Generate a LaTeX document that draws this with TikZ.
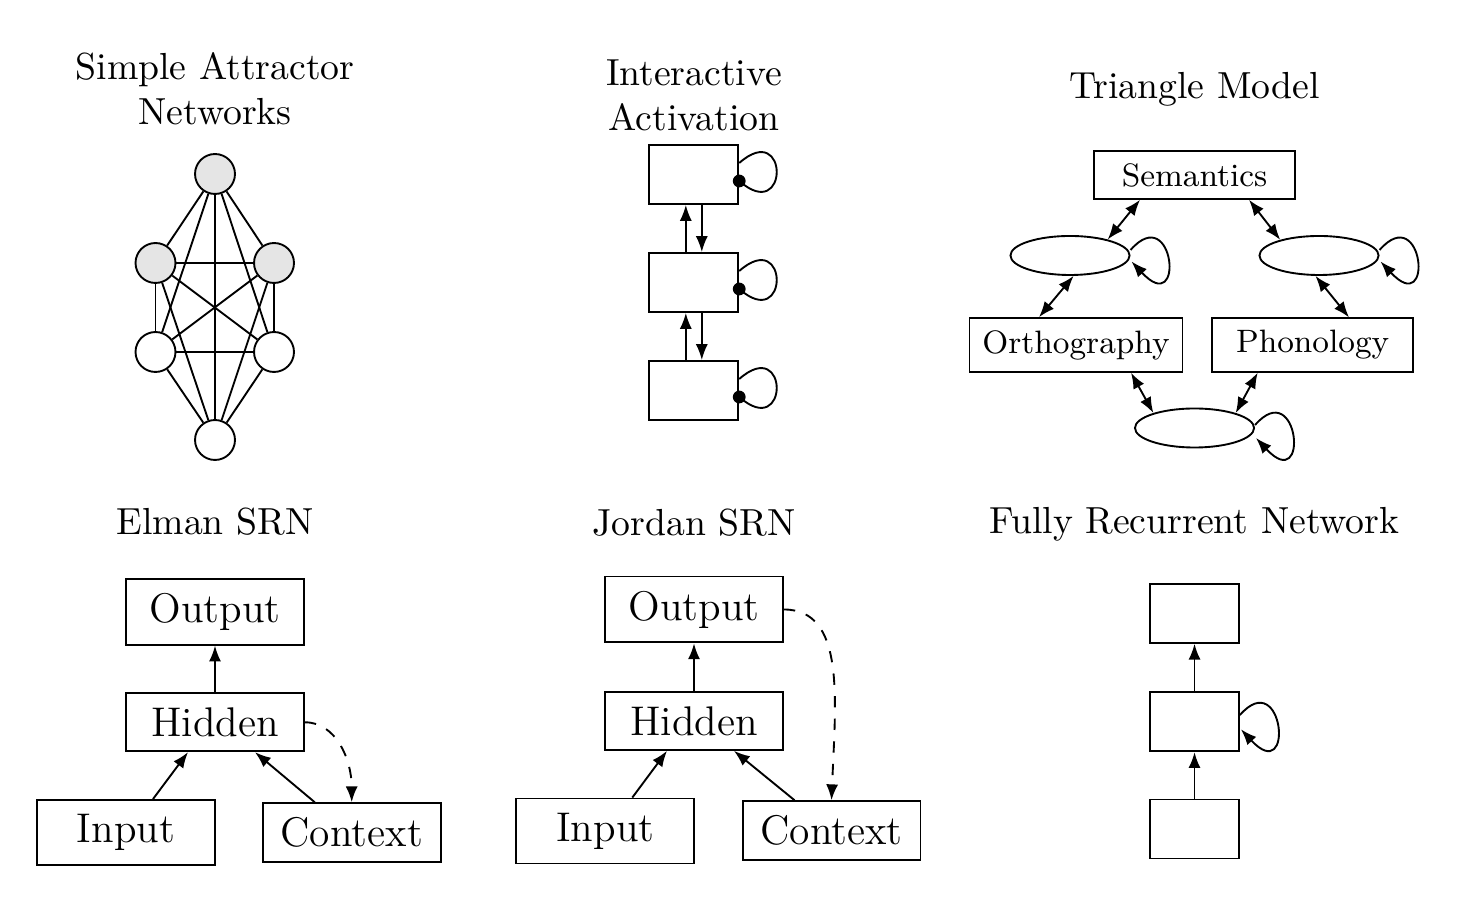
\documentclass[tikz,border=0pt]{standalone}
\usepackage{fontspec}
\usetikzlibrary{arrows.meta,shapes.geometric,calc}
\begin{document}
\begin{tikzpicture}[x=0.2653pt,y=-0.2653pt,
  line width=0.5pt,
  >={Latex[length=4.2pt,width=3.2pt]},
  neuron/.style={circle,draw,minimum size=10.6pt,inner sep=0pt,fill=white},
  hot/.style={neuron,fill=gray!20},
  ttl/.style={font=\fontsize{10}{12}\selectfont,align=center,inner sep=0pt},
  unit/.style={draw,rectangle,minimum width=23.6pt,minimum height=15.65pt,inner sep=0pt},
  tribox/.style={draw,rectangle,font=\fontsize{8.6}{10}\selectfont,inner xsep=3pt,inner ysep=3.2pt,minimum width=53.3pt},
  hidl/.style={draw,ellipse,minimum width=31.6pt,minimum height=10.35pt,inner sep=0pt},
  srn/.style={draw,rectangle,font=\fontsize{11}{13}\selectfont,minimum width=47.2pt,inner xsep=2pt,inner ysep=3.8pt}
]
\useasboundingbox (0,0) rectangle (1464,903);

% ---------- Simple Attractor Networks ----------
\node[ttl] (t1) at (215,88.5) {Simple Attractor\\Networks};
\node[hot] (a1) at (215,174) {};
\node[hot] (a2) at (155.5,263) {};
\node[hot] (a3) at (274,263) {};
\node[neuron] (a4) at (155.5,352) {};
\node[neuron] (a5) at (274,352) {};
\node[neuron] (a6) at (215,440) {};
\foreach \i/\j in {a1/a2,a1/a3,a1/a4,a1/a5,a1/a6,a2/a3,a2/a4,a2/a5,a2/a6,a3/a4,a3/a5,a3/a6,a4/a5,a4/a6,a5/a6}
  \draw (\i) -- (\j);

% ---------- Interactive Activation ----------
\node[ttl] (t2) at (694,95.5) {Interactive\\Activation};
\node[unit] (ia1) at (693.8,174.5) {};
\node[unit] (ia2) at (693.8,282.5) {};
\node[unit] (ia3) at (693.8,390.5) {};
\foreach \u/\l in {ia1/ia2,ia2/ia3}{
  \draw[->] ($(\l.north)+(-8,0)$) -- ($(\u.south)+(-8,0)$);
  \draw[->] ($(\u.south)+(8,0)$) -- ($(\l.north)+(8,0)$);
}
\foreach \b in {ia1,ia2,ia3}{
  \draw ($(\b.east)+(0,-11.5)$) .. controls +(50,-44) and +(50,44) .. ($(\b.east)+(0,6.5)$);
  \fill ($(\b.east)+(0,6.5)$) circle (1.7pt);
}

% ---------- Triangle Model ----------
\node[ttl,anchor=base] (t3) at (1194.5,99) {Triangle Model};
\node[tribox] (sem) at (1194.5,175) {Semantics};
\node[tribox,minimum width=56.5pt] (orth) at (1076,345) {Orthography};
\node[tribox] (phon) at (1312.7,345) {Phonology};
\node[hidl] (le) at (1070,255.5) {};
\node[hidl] (re) at (1319,255.5) {};
\node[hidl] (be) at (1194.5,428) {};
\draw[<->] ($(sem.south)+(-54.5,0)$) -- (le.23);
\draw[<->] ($(sem.south)+(54.5,0)$) -- (re.158);
\draw[<->] (le.-80) -- ($(orth.north)+(-37,0)$);
\draw[<->] (re.-100) -- ($(phon.north)+(36.3,0)$);
\draw[<->] ($(orth.south)+(55,0)$) -- (be.160);
\draw[<->] ($(phon.south)+(-55,0)$) -- (be.20);
\draw[->] ($(le.east)+(0,-5.5)$) .. controls +(44,-50) and +(54,58) .. ($(le.east)+(1,6)$);
\draw[->] ($(re.east)+(0,-5.5)$) .. controls +(44,-50) and +(54,58) .. ($(re.east)+(1,6)$);
\draw[->] ($(be.east)+(0,-3)$) .. controls +(44,-50) and +(54,58) .. ($(be.east)+(1,10)$);

% ---------- Elman SRN ----------
\node[ttl,anchor=base] (t4) at (215,535) {Elman SRN};
\node[srn] (eo) at (215,611.7) {Output};
\node[srn] (eh) at (215,722.3) {Hidden};
\node[srn] (ei) at (126,832.5) {Input};
\node[srn] (ec) at (351.7,832.5) {Context};
\draw[->] (eh.north) -- (eo.south);
\draw[->] ($(ei.north)+(27,0)$) -- ($(eh.south)+(-27,0)$);
\draw[->] ($(ec.north)+(-37,0)$) -- ($(eh.south)+(40,0)$);
\draw[->,dashed] (eh.east) .. controls +(31,0) and +(0,-43) .. (ec.north);

% ---------- Jordan SRN ----------
\node[ttl,anchor=base] (t5) at (694,536) {Jordan SRN};
\node[srn] (jo) at (694,609.5) {Output};
\node[srn] (jh) at (694,721) {Hidden};
\node[srn] (ji) at (605.3,831) {Input};
\node[srn] (jc) at (831.5,830.5) {Context};
\draw[->] (jh.north) -- (jo.south);
\draw[->] ($(ji.north)+(27,0)$) -- ($(jh.south)+(-27,0)$);
\draw[->] ($(jc.north)+(-37,0)$) -- ($(jh.south)+(40,0)$);
\draw[->,dashed] (jo.east) .. controls +(62,0) and +(4,-100) .. (jc.north);

% ---------- Fully Recurrent Network ----------
\node[ttl,anchor=base] (t6) at (1194.5,534) {Fully Recurrent Network};
\node[unit] (f1) at (1194.5,613.3) {};
\node[unit] (f2) at (1194.5,721.7) {};
\node[unit] (f3) at (1194.5,829) {};
\draw[->] (f2.north) -- (f1.south);
\draw[->] (f3.north) -- (f2.south);
\draw[->] ($(f2.east)+(0,-6.7)$) .. controls +(44,-50) and +(54,58) .. ($(f2.east)+(1,7.6)$);
\end{tikzpicture}
\end{document}
